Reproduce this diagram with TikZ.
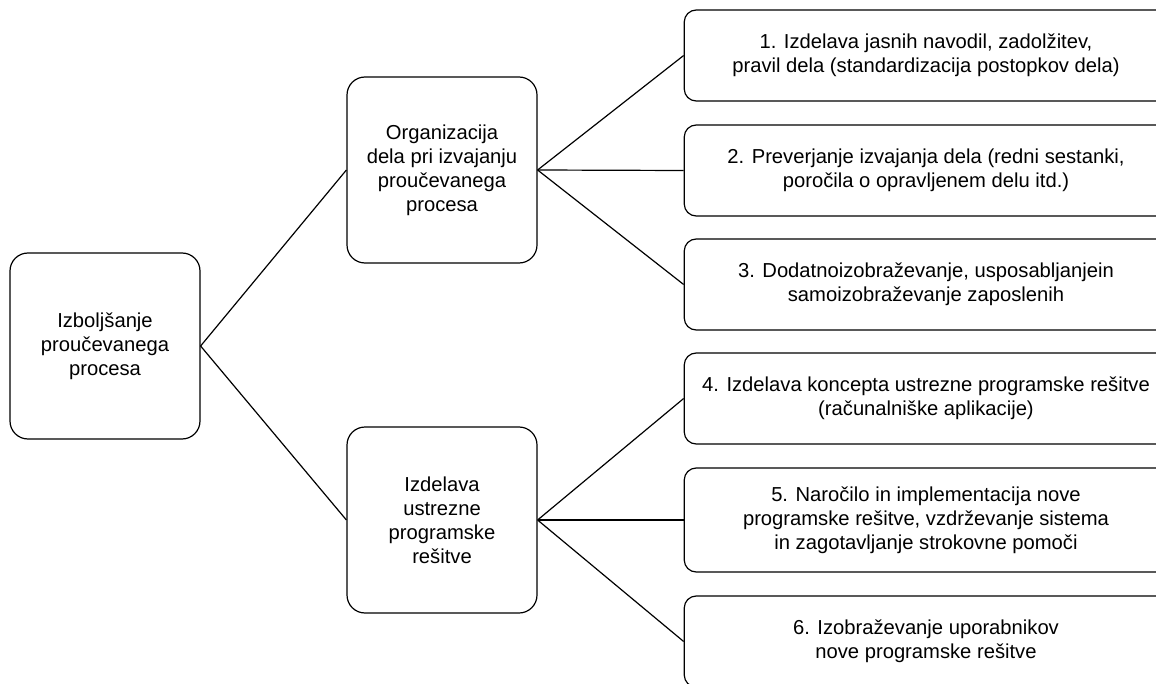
\documentclass[tikz,border=0pt]{standalone}
\usepackage{fontspec}
\setmainfont{Liberation Sans}

\begin{document}
\begin{tikzpicture}[x=0.5pt, y=-0.5pt,
        every node/.style={font=\fontsize{10.1}{12}\selectfont, align=center},
        bigbox/.style={draw, line width=0.6pt, rounded corners=9pt,
                minimum width=95pt, minimum height=93pt},
        taskbox/.style={draw, line width=0.6pt, rounded corners=6pt,
                minimum width=241.75pt, minimum height=45.5pt},
        link/.style={line width=0.6pt}]
        \clip (0,0) rectangle (1156,684);

        % Draw the main boxes
        \node[bigbox] (root) at (105,346) {Izboljšanje\\proučevanega\\procesa};
        \node[bigbox] (org) at (442,170) {Organizacija\\dela pri izvajanju\\proučevanega\\procesa};
        \node[bigbox] (prog) at (442,520) {Izdelava\\ustrezne\\programske\\rešitve};

        % Draw the task boxes
        \node[taskbox] (t1) at (926,55.5) {1. Izdelava jasnih navodil, zadolžitev,\\pravil dela (standardizacija postopkov dela)};
        \node[taskbox] (t2) at (926,170.5) {2. Preverjanje izvajanja dela (redni sestanki,\\poročila o opravljenem delu itd.)};
        \node[taskbox] (t3) at (926,284.5) {3. Dodatnoizobraževanje, usposabljanjein\\samoizobraževanje zaposlenih};
        \node[taskbox] (t4) at (926,398.5) {4. Izdelava koncepta ustrezne programske rešitve\\(računalniške aplikacije)};
        \node[taskbox, minimum height=52pt] (t5) at (926,520) {5. Naročilo in implementacija nove\\programske rešitve, vzdrževanje sistema\\in zagotavljanje strokovne pomoči};
        \node[taskbox] (t6) at (926,641.5) {6. Izobraževanje uporabnikov\\nove programske rešitve};

        % Connect the boxes
        \foreach \b in {org, prog} {
                \draw[link] (root.east) -- (\b.west);
            }
        \foreach \b in {t1, t2, t3} {
                \draw[link] (org.east) -- (\b.west);
            }
        \foreach \b in {t4, t5, t6} {
                \draw[link] (prog.east) -- (\b.west);
            }
    \end{tikzpicture}
\end{document}
